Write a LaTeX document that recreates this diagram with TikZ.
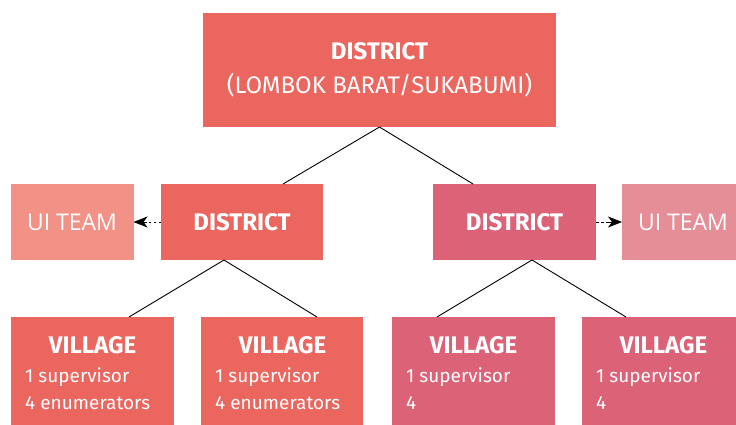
\documentclass[tikz,border=0pt]{standalone}
\usepackage{fontspec}
\setmainfont{Fira Sans}
\newfontfamily\uifont{Open Sans}
\usetikzlibrary{arrows.meta}
\definecolor{redA}{HTML}{EB665E}
\definecolor{pinkA}{HTML}{DC6277}
\definecolor{uiA}{HTML}{F29286}
\definecolor{uiB}{HTML}{E68E97}
\begin{document}
\begin{tikzpicture}[x=1pt,y=-1pt,
  box/.style={draw=none,inner sep=0pt,outer sep=0pt,text=white},
  txt/.style={text=white,inner sep=0pt},
  conn/.style={draw=black,line width=0.9pt},
  dashpart/.style={draw=black,line width=1pt,dash pattern=on 2.5pt off 2.5pt,shorten >=12pt},
  headpart/.style={draw=black,fill=black,line width=0.6pt,-{Stealth[length=14pt,width=11pt,inset=4pt]}}]
\useasboundingbox (0,0) rectangle (736,425);
% boxes
\node[box,fill=redA,minimum width=353pt,minimum height=114pt] (top) at (379.5,70) {};
\node[txt,anchor=base] (topa) at (379.5,60) {\fontsize{24}{28}\selectfont\bfseries DISTRICT};
\node[txt,anchor=base] (topb) at (379.5,94) {\fontsize{24}{28}\selectfont (LOMBOK BARAT/SUKABUMI)};
\node[box,fill=redA,minimum width=162pt,minimum height=76pt] (dl) at (242,222) {};
\node[txt,anchor=base] (dlt) at (242,230) {\fontsize{24}{28}\selectfont\bfseries DISTRICT};
\node[box,fill=pinkA,minimum width=163pt,minimum height=76pt] (dr) at (514.5,222) {};
\node[txt,anchor=base] (drt) at (514.5,230) {\fontsize{24}{28}\selectfont\bfseries DISTRICT};
\node[box,fill=uiA,minimum width=123pt,minimum height=76pt] (uil) at (72,222) {};
\node[txt,anchor=base] (uilt) at (72,230) {\uifont\fontsize{23}{28}\selectfont UI TEAM};
\node[box,fill=uiB,minimum width=114pt,minimum height=76pt] (uir) at (679,222) {};
\node[txt,anchor=base] (uirt) at (683,230) {\uifont\fontsize{23}{28}\selectfont UI TEAM};
% villages
\foreach \n/\x/\w/\c/\t in {v1/11/163/redA/4 enumerators, v2/201/162/redA/4 enumerators, v3/392/163/pinkA/4, v4/582/154/pinkA/4}{
  \node[box,fill=\c,minimum width=\w pt,minimum height=108pt,anchor=north west] (\n) at (\x,317) {};
  \node[txt,anchor=base] (\n h) at ([xshift=81.5pt]\n.north west |- 0,353) {\fontsize{24}{28}\selectfont\bfseries VILLAGE};
  \node[txt,anchor=base west] (\n a) at ([xshift=14pt]\n.north west |- 0,382) {\fontsize{19}{22}\selectfont 1 supervisor};
  \node[txt,anchor=base west] (\n b) at ([xshift=14pt]\n.north west |- 0,409) {\fontsize{19}{22}\selectfont \t};
}
% connectors
\draw[conn] (top.south) -- ([xshift=41pt]dl.north);
\draw[conn] (top.south) -- ([xshift=-41.5pt]dr.north);
\draw[conn] ([xshift=-18pt]dl.south) -- ([xshift=36.5pt]v1.north);
\draw[conn] ([xshift=-18pt]dl.south) -- ([xshift=35pt]v2.north);
\draw[conn] ([xshift=17.5pt]dr.south) -- ([xshift=-36.5pt]v3.north);
\draw[conn] ([xshift=17.5pt]dr.south) -- ([xshift=-33pt]v4.north);
\draw[dashpart] (dl.west) -- (uil.east);
\draw[headpart] ([xshift=13pt]uil.east) -- (uil.east);
\draw[dashpart] (dr.east) -- (uir.west);
\draw[headpart] ([xshift=-13pt]uir.west) -- (uir.west);
\end{tikzpicture}
\end{document}
